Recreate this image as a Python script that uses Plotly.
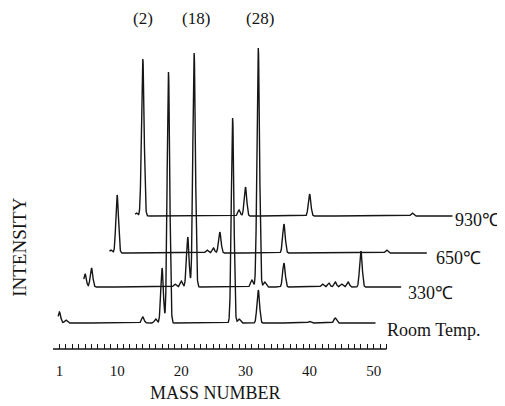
import numpy as np
import plotly.graph_objects as go

# ---- data ----
trace_names = ["Room Temp.", "330℃", "650℃", "930℃"]
room_mass = [1, 2, 14, 16, 17, 18, 28, 29, 32, 40, 44]
room_int = [11, 3, 6, 4, 55, 251, 205, 4, 33, 1.5, 5]
t330_mass = [1, 2, 15, 16, 17, 18, 27, 28, 29, 32, 38, 39, 40, 41, 42, 44]
t330_int = [13, 19, 3, 6, 50, 234, 7, 239, 5, 24, 3, 4, 5, 3, 5, 36]
t650_mass = [1, 2, 16, 17, 18, 28, 44]
t650_int = [3, 58, 3, 5, 21, 29, 3]
t930_mass = [1, 2, 17, 18, 28, 44]
t930_int = [3, 157, 6, 29, 22, 3]
baselines = [26, 62, 96, 133]       # vertical stacking of the spectra
mass_shift = [0, 4, 8, 12]          # horizontal stacking (mass units)
peak_labels = ["(2)", "(18)", "(28)"]
peak_label_x = [14, 22.3, 32.3]
tick_vals = [1, 10, 20, 30, 40, 50]
minor_ticks = list(range(1, 53))
major_ticks = [10, 20, 30, 40, 50]

peaks = [(room_mass, room_int), (t330_mass, t330_int),
         (t650_mass, t650_int), (t930_mass, t930_int)]

SERIF = "Liberation Serif, Times New Roman, serif"
INK = "#151515"
fig = go.Figure()

sigma = 0.2
for k, (ms, hs) in enumerate(peaks):
    m = np.arange(0.8, 50.3, 0.02)
    y = np.full_like(m, float(baselines[k]))
    for mk, hk in zip(ms, hs):
        y += hk * np.exp(-0.5 * ((m - mk) / sigma) ** 2)
    fig.add_trace(go.Scatter(x=m + mass_shift[k], y=y, mode="lines",
                             line=dict(color=INK, width=1.4),
                             showlegend=False, hoverinfo="skip"))

ann = []
label_pos = [(51.7, 19), (55.1, 56), (59.4, 91), (62.4, 129)]
for name, (lx, ly) in zip(trace_names, label_pos):
    ann.append(dict(x=lx, y=ly, xref="x", yref="y", text=name, showarrow=False,
                    xanchor="left", yanchor="middle",
                    font=dict(family=SERIF, size=18, color=INK)))
for t, px in zip(peak_labels, peak_label_x):
    ann.append(dict(x=px, y=331, xref="x", yref="y", text=t, showarrow=False,
                    xanchor="center", yanchor="middle",
                    font=dict(family=SERIF, size=17, color=INK)))
ann.append(dict(x=25.3, y=-0.132, xref="x", yref="paper", text="MASS NUMBER",
                showarrow=False, xanchor="center", yanchor="middle",
                font=dict(family=SERIF, size=18, color=INK)))
ann.append(dict(x=-0.0735, y=0.304, xref="paper", yref="paper", text="INTENSITY",
                showarrow=False, textangle=-90, xanchor="center", yanchor="middle",
                font=dict(family=SERIF, size=19, color=INK)))

tick_text = [str(v) if v in tick_vals else "" for v in minor_ticks]

# the page body adds an 8px margin, so the figure is 8px smaller each way
fig.update_layout(
    width=497, height=398,
    margin=dict(l=45, r=3, t=5, b=57),
    paper_bgcolor="white", plot_bgcolor="white",
    xaxis=dict(range=[0, 70], showline=False,
               ticks="inside", ticklen=5, tickwidth=1, tickcolor=INK,
               tickvals=minor_ticks, ticktext=tick_text,
               ticklabelstandoff=11,
               tickfont=dict(family=SERIF, size=15, color=INK),
               showgrid=False, zeroline=False),
    xaxis2=dict(range=[0, 70], anchor="y", overlaying="x",
                ticks="inside", ticklen=11, tickwidth=1, tickcolor=INK,
                tickvals=major_ticks, showticklabels=False,
                showline=False, showgrid=False, zeroline=False),
    yaxis=dict(range=[0, 336], visible=False),
    shapes=[dict(type="line", xref="x", yref="paper", x0=0, x1=52, y0=0, y1=0,
                 line=dict(color=INK, width=1.5))],
    annotations=ann,
)

fig.write_html("out.html")
